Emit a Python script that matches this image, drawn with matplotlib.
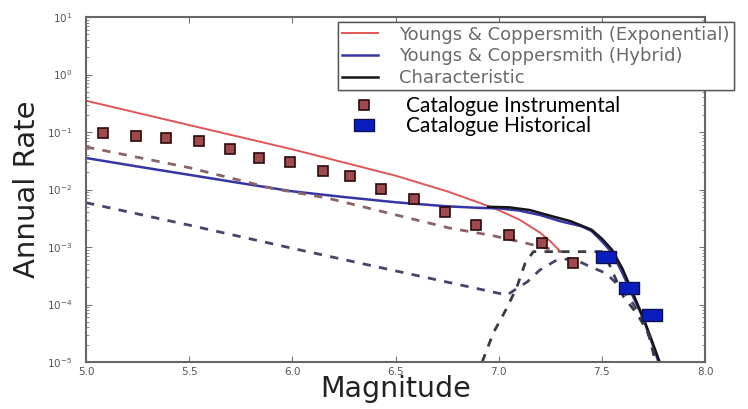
import matplotlib
matplotlib.use("Agg")
import matplotlib.pyplot as plt
from matplotlib.lines import Line2D
from matplotlib.ticker import NullFormatter

# Youngs & Coppersmith exponential (solid = cumulative, dashed = incremental)
exp_mag = [5.0, 5.5, 6.0, 6.5, 6.75, 6.9, 7.0, 7.1, 7.2, 7.25, 7.3]
exp_rate = [0.35, 0.132, 0.050, 0.0174, 0.0093, 0.0060, 0.00437, 0.0030, 0.00178, 0.00126, 0.00083]
exp_inc_mag = [5.0, 5.5, 5.9, 6.17, 6.44, 6.76, 6.97, 7.14, 7.30]
exp_inc_rate = [0.055, 0.024, 0.0105, 0.0071, 0.0041, 0.00214, 0.00158, 0.00115, 0.00083]

# Youngs & Coppersmith hybrid
hyb_mag = [5.0, 5.25, 5.5, 5.75, 6.0, 6.25, 6.5, 6.75, 6.9, 7.0, 7.1, 7.2, 7.3,
           7.4, 7.45, 7.5, 7.55, 7.6, 7.65, 7.7, 7.74, 7.775]
hyb_rate = [0.0353, 0.0251, 0.0180, 0.0129, 0.0093, 0.0074, 0.0060, 0.0051, 0.0048,
            0.0047, 0.0043, 0.0036, 0.0028, 0.0023, 0.0019, 0.00126, 0.00079,
            0.00035, 0.00014, 5.8e-5, 2.3e-5, 1.0e-5]
hyb_inc_mag = [5.0, 5.5, 6.0, 6.4, 7.04, 7.14, 7.20, 7.28, 7.36, 7.44, 7.52,
               7.59, 7.65, 7.70, 7.73, 7.75, 7.76]
hyb_inc_rate = [0.0059, 0.0024, 0.00095, 0.00046, 0.000146, 0.00025, 0.0004,
                0.00059, 0.00063, 0.00046, 0.00035, 0.0002, 0.000105, 5.4e-5,
                2.75e-5, 1.4e-5, 1.0e-5]

# Characteristic
char_mag = [6.95, 7.05, 7.15, 7.25, 7.35, 7.45, 7.5, 7.55, 7.6, 7.65, 7.7, 7.74, 7.78]
char_rate = [0.0050, 0.0049, 0.0044, 0.0035, 0.0028, 0.0020, 0.0014, 0.00089,
             0.00042, 0.00016, 6.0e-5, 2.5e-5, 1.0e-5]
char_inc_mag = [6.92, 6.974, 7.039, 7.088, 7.128, 7.168, 7.30, 7.50, 7.53,
                7.605, 7.669, 7.718, 7.742, 7.76]
char_inc_rate = [1.0e-5, 3.2e-5, 8.6e-5, 2.0e-4, 5.2e-4, 8.3e-4, 8.3e-4, 8.3e-4,
                 5.6e-4, 1.37e-4, 7.0e-5, 3.6e-5, 2.1e-5, 1.0e-5]

# catalogue
inst_mag = [5.08, 5.24, 5.39, 5.55, 5.70, 5.84, 5.99, 6.15, 6.28, 6.43, 6.59,
            6.74, 6.89, 7.05, 7.21, 7.36]
inst_rate = [0.095, 0.086, 0.078, 0.070, 0.051, 0.036, 0.030, 0.021, 0.017,
             0.0101, 0.0068, 0.0041, 0.0024, 0.00164, 0.00116, 0.00053]
hist_mag = [7.52, 7.63, 7.745]
hist_rate = [6.6e-4, 1.9e-4, 6.5e-5]

fig = plt.figure(figsize=(7.48, 4.09), dpi=100)
ax = fig.add_axes([86/748, 1-362/409, (705-86)/748, (362-17)/409])

red, blue, black = '#e05555', '#3535a5', '#151515'
ax.plot(exp_mag, exp_rate, color=red, lw=1.4, label='Youngs & Coppersmith (Exponential)')
ax.plot(hyb_mag, hyb_rate, color=blue, lw=1.8, label='Youngs & Coppersmith (Hybrid)')
ax.plot(char_mag, char_rate, color=black, lw=1.8, label='Characteristic')
ax.plot(exp_inc_mag, exp_inc_rate, color='#8a6464', lw=2, ls=(0, (3, 3)))
ax.plot(hyb_inc_mag, hyb_inc_rate, color='#45456a', lw=2, ls=(0, (3, 3)))
ax.plot(char_inc_mag, char_inc_rate, color='#3a3a44', lw=2, ls=(0, (3, 3)))

rect = [(-1.5, -1), (1.5, -1), (1.5, 1), (-1.5, 1), (-1.5, -1)]
ax.plot(inst_mag, inst_rate, ls='none', marker='s', ms=7.5, mfc='#a04a4e',
        mec='#2a0a0a', mew=1.2, zorder=5)
ax.plot(hist_mag, hist_rate, ls='none', marker=rect, ms=14, mfc='#0a1ec0',
        mec='#101050', mew=1, zorder=5)

ax.set_yscale('log')
ax.set_xlim(5.0, 8.0)
ax.set_ylim(1e-5, 1e1)
ax.set_xticks([5.0, 5.5, 6.0, 6.5, 7.0, 7.5, 8.0])
ax.yaxis.set_minor_formatter(NullFormatter())
ax.tick_params(which='both', direction='in', top=True, right=True,
               labelsize=7.5, labelcolor='#555555', color='#777777')
ax.tick_params(which='major', length=4)
ax.tick_params(which='minor', length=2)
ax.tick_params(axis='y', which='major', pad=10)
for s in ax.spines.values():
    s.set_color('#666666')
    s.set_linewidth(1.5)

ax.set_xlabel('Magnitude', fontsize=20.5, color='#222222', labelpad=-1)
ax.set_ylabel('Annual Rate', fontsize=21, color='#222222', labelpad=4)

leg1 = ax.legend(loc='upper left', bbox_to_anchor=(338/748, 1-22/409),
                 bbox_transform=fig.transFigure, borderaxespad=0, fontsize=13,
                 handlelength=2.0, handletextpad=1.2, labelspacing=0.2,
                 borderpad=0.2, fancybox=False, framealpha=1,
                 edgecolor='#555555', labelcolor='#6a6a6a')
ax.add_artist(leg1)

cat_handles = [
    Line2D([], [], ls='none', marker='s', ms=7.5, mfc='#a04a4e', mec='#2a0a0a', mew=1.2),
    Line2D([], [], ls='none', marker=rect, ms=14, mfc='#0a1ec0', mec='#101050', mew=1),
]
fig.legend(cat_handles, ['Catalogue Instrumental', 'Catalogue Historical'],
           loc='upper left', bbox_to_anchor=(354/748, 1-96/409), frameon=False,
           borderaxespad=0, borderpad=0, handlelength=1.0, handletextpad=1.5,
           labelspacing=0.0, prop={'family': 'Lato', 'size': 15})

fig.savefig('out.png', dpi=100)
